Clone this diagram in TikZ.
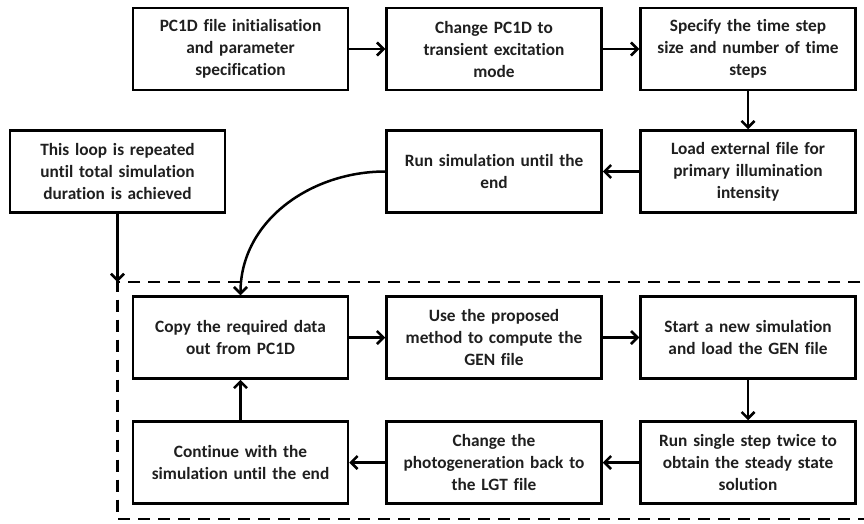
\documentclass[tikz,border=0pt]{standalone}
\usepackage{fontspec}
\setmainfont[Ligatures=NoCommon]{Carlito}
\usetikzlibrary{arrows.meta}
\begin{document}
\begin{tikzpicture}[x=1pt,y=-1pt,
  box/.style={draw=black,line width=2.5pt,minimum width=215pt,minimum height=82pt,
    inner sep=0pt,text width=212pt,align=center,font=\fontsize{17.3}{22}\selectfont\bfseries,text=black!88},
  arr/.style={line width=2.5pt,-{Straight Barb[length=6.5pt,width=13pt]}},
  dashbox/.style={line width=2.6pt,dash pattern=on 12pt off 8pt}]
\useasboundingbox (0,0) rectangle (864,523);
\node[box] (A) at (240.5,49) {PC1D file initialisation\\and parameter\\specification};
\node[box] (B) at (494,49) {Change PC1D to\\transient excitation\\mode};
\node[box] (C) at (748,49) {Specify the time step\\size and number of time\\steps};
\node[box] (L) at (117.5,171.5) {This loop is repeated\\until total simulation\\duration is achieved};
\node[box] (R) at (494,171.5) {Run simulation until the\\end};
\node[box] (D) at (748,171.5) {Load external file for\\primary illumination\\intensity};
\node[box] (E) at (240.5,337.5) {Copy the required data\\out from PC1D};
\node[box] (F) at (494,337.5) {Use the proposed\\method to compute the\\GEN file};
\node[box] (G) at (748,337.5) {Start a new simulation\\and load the GEN file};
\node[box] (H) at (240.5,462.5) {Continue with the\\simulation until the end};
\node[box] (I) at (494,462.5) {Change the\\photogeneration back to\\the LGT file};
\node[box] (J) at (748,462.5) {Run single step twice to\\obtain the steady state\\solution};
\coordinate (corner) at (117.5,282);
\draw[dashbox] (880,282) -- (corner) -- (117.5,519) -- (880,519);
\draw[arr] (A) -- (B);
\draw[arr] (B) -- (C);
\draw[arr] (C) -- (D);
\draw[arr] (D) -- (R);
\draw[arr] (R.west) to[out=180,in=90] (E.north);
\draw[arr] (E) -- (F);
\draw[arr] (F) -- (G);
\draw[arr] (G) -- (J);
\draw[arr] (J) -- (I);
\draw[arr] (I) -- (H);
\draw[arr] (H) -- (E);
\draw[arr] (L.south) -- (corner);
\end{tikzpicture}
\end{document}
